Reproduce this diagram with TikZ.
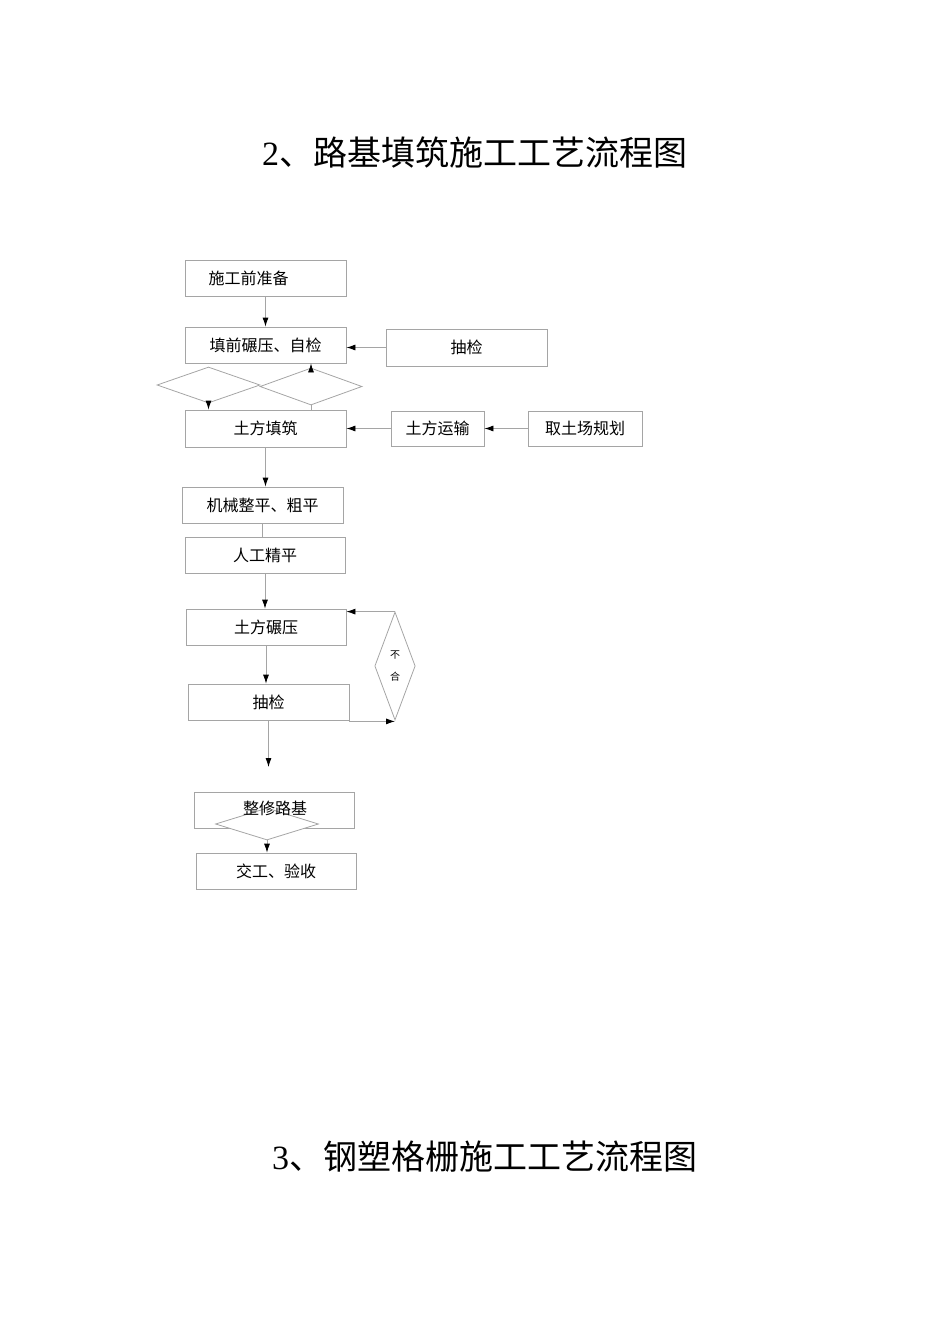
\documentclass[tikz,border=0pt]{standalone}
\usepackage{fontspec}
\setmainfont{Liberation Serif}
\newfontfamily\cjk{Noto Sans CJK SC}
\usetikzlibrary{arrows.meta,shapes.geometric,positioning}
\definecolor{linegrey}{RGB}{165,165,165}
\begin{document}
\begin{tikzpicture}[x=1pt,y=-1pt,
    box/.style={draw=linegrey,line width=0.8pt,minimum width=161pt,minimum height=36pt,inner sep=0pt,font=\cjk\fontsize{16}{18}\selectfont},
    dia/.style={diamond,draw=linegrey,line width=0.8pt,inner sep=0pt},
    line/.style={draw=linegrey,line width=0.8pt},
    arr/.style={line,-{Latex[length=9pt,width=6pt,black]}}]
    \useasboundingbox (0,0) rectangle (950,1344);

    \node (title1) at (474.5,152) {\fontsize{34}{40}\selectfont 2{\cjk 、路基填筑施工工艺流程图}};
    \node (title2) at (484.5,1157) {\fontsize{34}{40}\selectfont 3{\cjk 、钢塑格栅施工工艺流程图}};

    % main column
    \node[box] (prep) at (265.5,278) {\hspace*{-34pt}施工前准备};
    \node[box] (precomp) at (265.5,345) {填前碾压、自检};
    \node[box,minimum height=37pt] (check1) at (466.5,347.5) {抽检};
    \node[box,minimum height=37pt] (fill) at (265.5,428.5) {土方填筑};
    \node[box,minimum width=93pt,minimum height=35pt] (haul) at (437.5,428.5) {土方运输};
    \node[box,minimum width=114pt,minimum height=35pt] (borrow) at (585,428.5) {取土场规划};
    \node[box] (rough) at (262.5,505) {机械整平、粗平};
    \node[box,minimum width=160pt] (manual) at (265,555) {人工精平};
    \node[box,minimum width=160pt] (roll) at (266,627) {土方碾压};
    \node[box] (check2) at (268.5,702) {抽检};
    \node[box,minimum width=160pt] (trim) at (274,810) {};
    \node[box,minimum width=160pt] (accept) at (276,871) {交工、验收};

    \node[dia,minimum width=103pt,minimum height=36pt] (dleft) at (208.5,385) {};
    \node[dia,minimum width=102pt,minimum height=37pt] (dright) at (311,386.5) {};
    \node[dia,minimum width=40pt,minimum height=108pt,align=center,font=\cjk\fontsize{10}{22}\selectfont] (fail) at (395,666) {不\\合};
    \node[dia,fill=white,minimum width=103pt,minimum height=32pt] (dend) at (267,824) {};
    \node[font=\cjk\fontsize{16}{18}\selectfont] (trimtext) at (275,808) {整修路基};
    \coordinate (out) at (267,767);

    % connectors
    \draw[arr] (prep.south) -- (precomp.north);
    \draw[arr] (check1.west) -- (check1.west -| precomp.east);
    \draw[arr] (dleft.south) -- (dleft.south |- fill.north);
    \draw[arr] (dright.north) -- (dright.north |- precomp.south);
    \draw[line] (dright.south) -- (dright.south |- fill.north);
    \draw[arr] (haul.west) -- (haul.west -| fill.east);
    \draw[arr] (borrow.west) -- (haul.east);
    \draw[arr] (fill.south) -- (fill.south |- rough.north);
    \draw[line] (rough.south) -- (rough.south |- manual.north);
    \draw[arr] (manual.south) -- (manual.south |- roll.north);
    \draw[arr] (roll.south) -- (roll.south |- check2.north);
    \draw[arr] (check2.south) -- (check2.south |- out);
    \draw[arr] ([yshift=-1pt]check2.south east) -- ([yshift=-1pt]check2.south east -| fail.south);
    \draw[arr] (fail.north) -- (fail.north -| roll.east);
    \draw[arr] (dend.south) -- (dend.south |- accept.north);
\end{tikzpicture}
\end{document}
